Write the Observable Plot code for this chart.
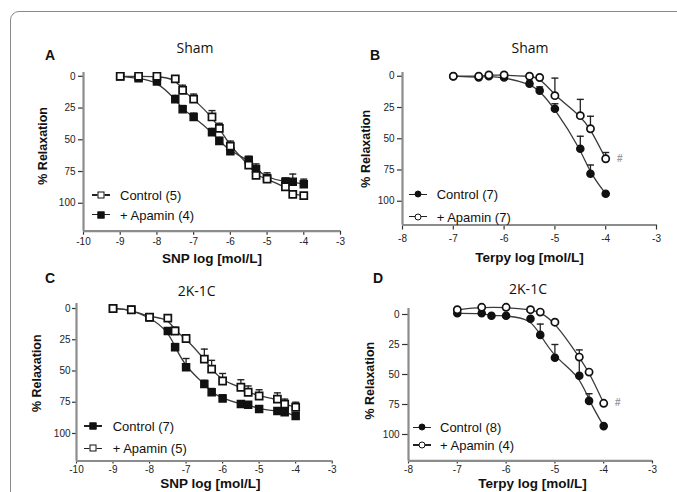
<!DOCTYPE html>
<html><head><meta charset="utf-8">
<script src="https://cdn.jsdelivr.net/npm/d3@7"></script>
<script src="https://cdn.jsdelivr.net/npm/@observablehq/plot@0.6"></script>
<style>
body{margin:0;background:#fff;}
#root{position:relative;width:677px;height:492px;overflow:hidden;background:#fff;font-family:"Liberation Sans",Arial,sans-serif;color:#111;}
#frame{position:absolute;left:10px;top:11px;width:720px;height:520px;border:1.5px solid #8a8a8a;border-radius:9px;}
.abs{position:absolute;white-space:nowrap;}
.letter{font-weight:bold;font-size:14px;transform:translate(-50%,-50%);}
.ptitle{font-family:"Open Sans",sans-serif;font-size:14px;transform:translate(-50%,-50%);}
.leg{font-size:13px;transform:translateY(-50%);line-height:1;}
.legline{position:absolute;height:1.5px;background:#222;}
.legmark{position:absolute;width:5px;height:5px;border:1.6px solid #111;transform:translate(-50%,-50%);}
.wrap{position:absolute;}
</style></head><body><div id="root"><div id="frame"></div></div>
<script>
// ---------- data ----------
const snpDoses   = [-9,-8.5,-8,-7.5,-7.3,-7,-6.5,-6.3,-6,-5.5,-5.3,-5,-4.5,-4.3,-4];
const terpyDoses = [-7,-6.5,-6.3,-6,-5.5,-5.3,-5,-4.5,-4.3,-4];
const snpTicks   = [-10,-9,-8,-7,-6,-5,-4,-3];
const terpyTicks = [-8,-7,-6,-5,-4,-3];
const relaxTicks = [0,25,50,75,100];

// A: Sham, SNP
const shamSnpControl    = [0,0,0,2,11,18,32,41,55,70,78,81,87,93,94];
const shamSnpControlSem = [0,0,0,0,4,4,5,4,4,3,4,3,4,0,0];
const shamSnpApamin     = [0,1.5,4,18,26,32,44,51,59,66,73,80,83,83,85];
const shamSnpApaminSem  = [0,0,2,3,3,3,3,3,3,3,4,4,3,6,4];
// B: Sham, Terpy
const shamTerpyControl    = [0,1,0,1,6,11.5,26,58,78,94];
const shamTerpyControlSem = [0,2,0,0,2,3,4,10,7,0];
const shamTerpyApamin     = [0,0,-1,-1,0,1,15.5,31.5,42,66];
const shamTerpyApaminSem  = [0,0,0,0,0,0,14,13,10,5];
// C: 2K-1C, SNP
const k2SnpControl    = [0,1,7,18,31,47,60.5,67,72,76.5,77,80.5,82,83,86];
const k2SnpControlSem = [0,0,1,2,3,7,3,3,3,2,2,2,2,2,2];
const k2SnpApamin     = [0,1,7,7.7,18,24,40.5,48.5,58,63,67,70,72.5,76.5,79];
const k2SnpApaminSem  = [0,0,0,2,3,3,8,7,6,6,5,5,5,4,4];
// D: 2K-1C, Terpy
const k2TerpyControl    = [-1,-1,1,1,3.6,17,36,51,72,93];
const k2TerpyControlSem = [0,0,0,0,0,9,11,15,6,0];
const k2TerpyApamin     = [-4,-6,null,-6,-4,-2,6.4,35.5,48,74];
const k2TerpyApaminSem  = [0,0,0,0,0,0,0,6,0,0];

const panelLetters = ["A","B","C","D"];
const panelTitles  = ["Sham","Sham","2K-1C","2K-1C"];
const xLabels = ["SNP log [mol/L]","Terpy log [mol/L]","SNP log [mol/L]","Terpy log [mol/L]"];
const yLabel = "% Relaxation";
const legendLabels = [
  ["Control (5)","+ Apamin (4)"],
  ["Control (7)","+ Apamin (7)"],
  ["Control (7)","+ Apamin (5)"],
  ["Control (8)","+ Apamin (4)"]
];

// ---------- helpers ----------
const rows = (xs, ys, es) => xs.map((x,i)=>({x, y: ys[i], e: es[i]})).filter(d=>d.y!=null);
const capSymbol = {draw(ctx, size){ const r = Math.sqrt(size/Math.PI); ctx.moveTo(-r,0); ctx.lineTo(r,0); }};
const root = document.getElementById("root");

function addDiv(cls, x, y, text){
  const d = document.createElement("div");
  d.className = "abs " + cls;
  d.style.left = x + "px"; d.style.top = y + "px";
  if (text != null) d.textContent = text;
  root.appendChild(d);
  return d;
}

function panel(cfg){
  const [x0,x1,yTop,yBot] = cfg.frame;
  const mL=70, mR=20, mT=12, mB=45;
  const filled = rows(cfg.doses, cfg.filledVals, cfg.filledSem);
  const open = rows(cfg.doses, cfg.openVals, cfg.openSem);
  const errF = filled.filter(d=>d.e>0), errO = open.filter(d=>d.e>0);
  const chart = Plot.plot({
    width: x1-x0+mL+mR, height: yBot-yTop+mT+mB,
    marginLeft: mL, marginRight: mR, marginTop: mT, marginBottom: mB,
    x: {domain: cfg.xDomain},
    y: {domain: cfg.yDomain, reverse: true},
    style: {fontFamily: "'Liberation Sans', Arial, sans-serif", fontSize: "10px", color: "#222", background: "transparent", overflow: "visible"},
    marks: [
      Plot.axisX({ticks: cfg.xTicks, tickFormat: d=>String(d), tickSize: cfg.xTickSize, tickPadding: cfg.xTickPad, label: null, stroke: "#333", strokeWidth: 1.2}),
      Plot.axisY({ticks: relaxTicks, tickFormat: d=>String(d), tickSize: cfg.yTickSize, tickPadding: cfg.yTickPad, label: null, stroke: "#333", strokeWidth: 1.2}),
      Plot.ruleX([cfg.xDomain[0]], {stroke: "#8c8c8c", strokeWidth: 2.2}),
      Plot.ruleY([cfg.yDomain[1]], {stroke: "#8c8c8c", strokeWidth: 2.2}),
      Plot.line(filled, {x:"x", y:"y", curve:"basis", stroke:"#3a3a3a", strokeWidth:1.3}),
      Plot.line(open, {x:"x", y:"y", curve:"basis", stroke:"#3a3a3a", strokeWidth:1.3}),
      Plot.ruleX(errF, {x:"x", y1: d=>d.y-d.e, y2:"y", stroke:"#222", strokeWidth:1.3}),
      Plot.dot(errF, {x:"x", y: d=>d.y-d.e, symbol: capSymbol, r:3.5, stroke:"#222", strokeWidth:1.4, fill:"none"}),
      Plot.ruleX(errO, {x:"x", y1: d=>d.y-d.e, y2:"y", stroke:"#222", strokeWidth:1.3}),
      Plot.dot(errO, {x:"x", y: d=>d.y-d.e, symbol: capSymbol, r:3.5, stroke:"#222", strokeWidth:1.4, fill:"none"}),
      Plot.dot(filled, {x:"x", y:"y", symbol: cfg.symbol, r: cfg.r, fill:"#111", stroke:"#111", strokeWidth:1.4}),
      Plot.dot(open, {x:"x", y:"y", symbol: cfg.symbol, r: cfg.r, fill:"#fff", stroke:"#111", strokeWidth:1.7}),
      cfg.hash ? Plot.text(open.slice(-1), {x:"x", y:"y", text: ()=>"#", dx: 14, fill:"#999", fontSize: 10, fontWeight: "bold"}) : null,
      Plot.text([cfg.xLabel], {frameAnchor:"bottom", lineAnchor:"middle", textAnchor:"middle", text: d=>d, dy: cfg.xLabelDy, dx: cfg.xLabelDx, fontWeight:"bold", fontSize: 13.5, fill:"#111"}),
      Plot.text([yLabel], {frameAnchor:"left", lineAnchor:"middle", textAnchor:"middle", text: d=>d, rotate:-90, dx: cfg.yLabelDx, dy: cfg.yLabelDy, fontWeight:"bold", fontSize: 12.5, fill:"#111"})
    ]
  });
  const w = document.createElement("div");
  w.className = "wrap";
  w.style.left = (x0-mL) + "px"; w.style.top = (yTop-mT) + "px";
  w.appendChild(chart);
  root.appendChild(w);

  // letter and title
  addDiv("letter", cfg.letterPos[0], cfg.letterPos[1], cfg.letter);
  addDiv("ptitle", cfg.titlePos[0], cfg.titlePos[1], cfg.title);
  // legend
  const [sx, tx, r1, r2] = cfg.legend;
  const legendOrder = cfg.legendFilledFirst ? [true,false] : [false,true];
  [r1, r2].forEach((ry, i) => {
    const isFilled = legendOrder[i];
    const ln = addDiv("legline", sx-9, ry-0.75);
    ln.style.width = "18px";
    const mk = addDiv("legmark", sx, ry);
    mk.style.background = isFilled ? "#111" : "#fff";
    if (cfg.symbol === "circle") mk.style.borderRadius = "50%";
    addDiv("leg", tx, ry, cfg.legendText[i]);
  });
}

panel({frame:[83,340,71.9,230.6], xDomain:[-10,-3], yDomain:[-3,122], xTicks: snpTicks, doses: snpDoses,
  filledVals: shamSnpApamin, filledSem: shamSnpApaminSem, openVals: shamSnpControl, openSem: shamSnpControlSem,
  symbol:"square", r:4, xTickSize:4, xTickPad:3, yTickSize:5, yTickPad:3,
  xLabel: xLabels[0], xLabelDy: 27.5, xLabelDx: 0, yLabelDx: -41, yLabelDy: -6,
  letter: panelLetters[0], letterPos:[50,55], title: panelTitles[0], titlePos:[195,46.5],
  legend:[100.5,120,195,214.5], legendText: legendLabels[0], legendFilledFirst:false, hash:false});

panel({frame:[402,656,72,224.5], xDomain:[-8,-3], yDomain:[-3,119], xTicks: terpyTicks, doses: terpyDoses,
  filledVals: shamTerpyControl, filledSem: shamTerpyControlSem, openVals: shamTerpyApamin, openSem: shamTerpyApaminSem,
  symbol:"circle", r:3.6, xTickSize:5, xTickPad:5, yTickSize:5, yTickPad:3,
  xLabel: xLabels[1], xLabelDy: 33, xLabelDx: 0, yLabelDx: -37, yLabelDy: 0,
  letter: panelLetters[1], letterPos:[375,55], title: panelTitles[1], titlePos:[530,46.5],
  legend:[418.3,436.7,194.3,216.7], legendText: legendLabels[1], legendFilledFirst:true, hash:true});

panel({frame:[76,331.7,302.7,460.2], xDomain:[-10,-3], yDomain:[-4,122], xTicks: snpTicks, doses: snpDoses,
  filledVals: k2SnpControl, filledSem: k2SnpControlSem, openVals: k2SnpApamin, openSem: k2SnpApaminSem,
  symbol:"square", r:4, xTickSize:3, xTickPad:2, yTickSize:4, yTickPad:2,
  xLabel: xLabels[2], xLabelDy: 22.5, xLabelDx: 6, yLabelDx: -40, yLabelDy: -9,
  letter: panelLetters[2], letterPos:[50,278], title: panelTitles[2], titlePos:[196.7,290],
  legend:[93.3,112.7,426,448.3], legendText: legendLabels[2], legendFilledFirst:true, hash:false});

panel({frame:[407.7,651.7,308,460.4], xDomain:[-8,-3], yDomain:[-5,122], xTicks: terpyTicks, doses: terpyDoses,
  filledVals: k2TerpyControl, filledSem: k2TerpyControlSem, openVals: k2TerpyApamin, openSem: k2TerpyApaminSem,
  symbol:"circle", r:3.6, xTickSize:3, xTickPad:2, yTickSize:6, yTickPad:3,
  xLabel: xLabels[3], xLabelDy: 22.5, xLabelDx: 2, yLabelDx: -39, yLabelDy: -4,
  letter: panelLetters[3], letterPos:[378,278], title: panelTitles[3], titlePos:[528,288],
  legend:[421.7,440,427.3,445], legendText: legendLabels[3], legendFilledFirst:true, hash:true});
</script>
</body></html>
